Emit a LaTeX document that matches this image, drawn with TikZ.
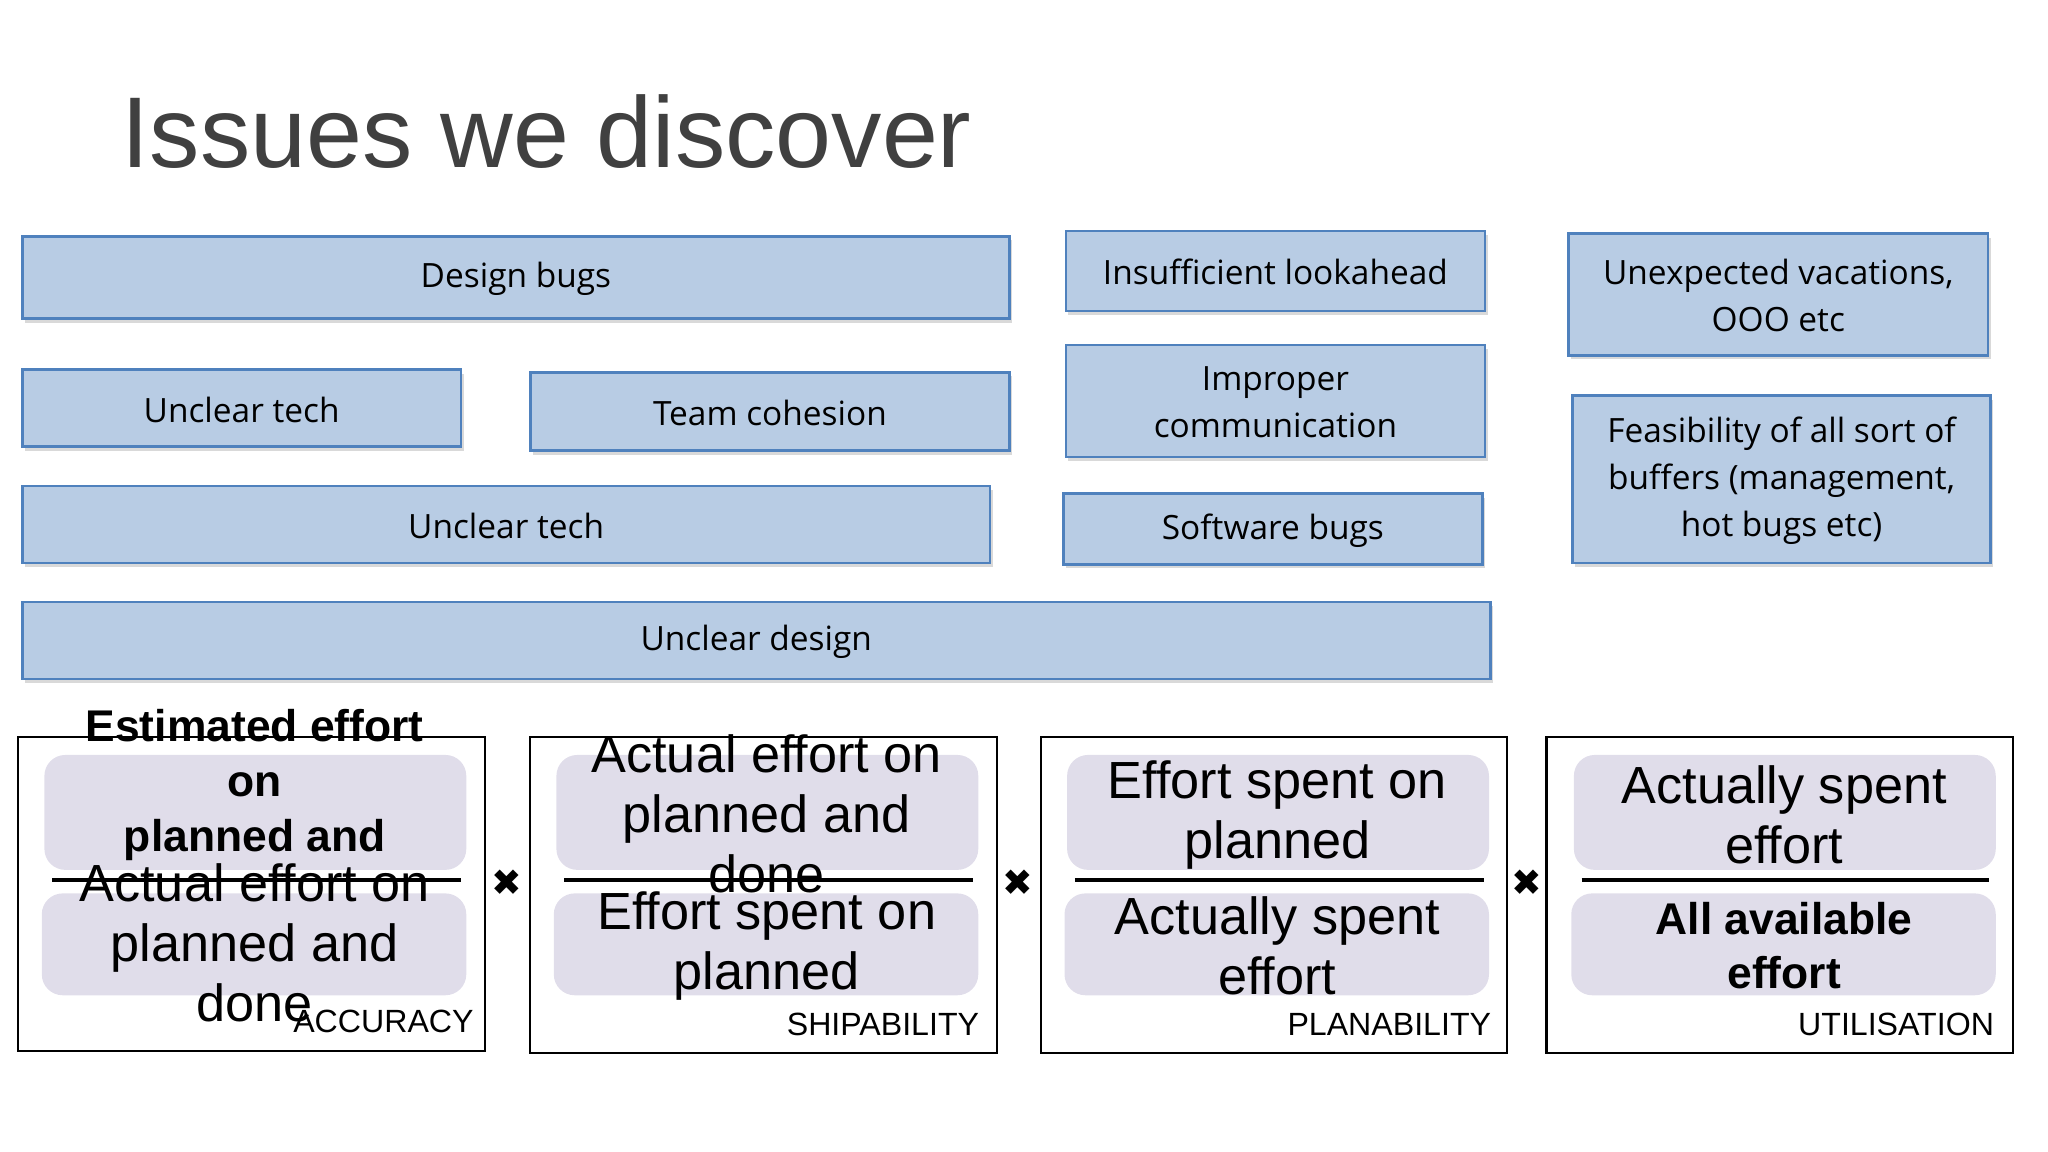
\documentclass[tikz,border=0pt]{standalone}
\usepackage{fontspec}
\setmainfont{Liberation Sans}
\newfontfamily\boxfont{Open Sans}
\newfontfamily\symfont{DejaVu Sans}
\usetikzlibrary{shadows}
\definecolor{bfill}{HTML}{B8CCE4}
\definecolor{bline}{HTML}{4F81BD}
\definecolor{lav}{HTML}{E0DDEA}
\definecolor{ttl}{HTML}{404040}
\begin{document}
\begin{tikzpicture}[x=0.5pt,y=-0.5pt,
 issue/.style={draw=bline,line width=1pt,fill=bfill,drop shadow={shadow xshift=1pt,shadow yshift=-1.5pt,opacity=0.3}},
 itext/.style={font=\boxfont\fontsize{12.8pt}{18pt}\selectfont,align=center,text=black},
 frame/.style={draw=black,line width=0.8pt},
 inner/.style={fill=lav,rounded corners=8pt},
 big/.style={font=\fontsize{20pt}{23pt}\selectfont,align=center,inner sep=0pt},
 bigb/.style={font=\bfseries\fontsize{17pt}{21pt}\selectfont,align=center,inner sep=0pt},
 lbl/.style={font=\fontsize{12.3pt}{14pt}\selectfont,anchor=east,inner sep=0pt},
 bar/.style={line width=1.6pt},
 times/.style={font=\symfont\fontsize{14pt}{14pt}\selectfont,inner sep=0pt}]
\useasboundingbox (0,0) rectangle (1568,882);
\node[font=\fontsize{38.5pt}{46pt}\selectfont,text=ttl,anchor=west,inner sep=0pt] (title) at (93,101) {Issues we discover};
% issue boxes
\foreach \n/\a/\b/\c/\d/\t in {
 db/17/181/773/244/{Design bugs},
 il/816/177/1137/238/{Insufficient lookahead},
 uv/1201/179/1522/272/{Unexpected vacations,\\OOO etc},
 ut/17/283/353/342/{Unclear tech},
 tc/406/285/773/345/{Team cohesion},
 ic/816/264/1137/350/{Improper\\communication},
 ut2/17/372/758/431/{Unclear tech},
 sb/814/378/1135/432/{Software bugs},
 fe/1204/303/1524/431/{Feasibility of all sort of\\buffers (management,\\hot bugs etc)},
 ud/17/461/1141/520/{Unclear design}}{
 \path[issue] (\a,\b) rectangle (\c,\d);
 \node[itext] (\n) at ({(\a+\c)/2},{(\b+\d)/2+1}) {\t};
}
% frames
\draw[frame] (14,564) rectangle (371,805);
\draw[frame] (406,564) rectangle (763,806);
\draw[frame] (797,564) rectangle (1154,806);
\draw[frame] (1184,564) rectangle (1541,806);
\foreach \x in {0,392,783,1171}{
 \fill[inner] ({34+\x},578) rectangle ({357+\x},666);
 \fill[inner] ({32+\x},684) rectangle ({357+\x},762);
}
\draw[bar] (40,674) -- (353,674);
\draw[bar] (432,674) -- (745,674);
\draw[bar] (823,674) -- (1136,674);
\draw[bar] (1211,674) -- (1523,674);
% frame 1
\node[bigb] (e1) at (195,601) {Estimated effort\\on\\planned and};
\node[big] (a1) at (195,722) {Actual effort on\\planned and\\done};
\node[lbl] (l1) at (363,782) {ACCURACY};
% frame 2
\node[big] (a2) at (587,623) {Actual effort on\\planned and\\done};
\node[big] (s2) at (587,724) {Effort spent on\\planned};
\node[lbl] (l2) at (750,784) {SHIPABILITY};
% frame 3
\node[big] (s3) at (978,624) {Effort spent on\\planned};
\node[big] (p3) at (978,724) {Actually spent\\effort};
\node[lbl] (l3) at (1142,784) {PLANABILITY};
% frame 4
\node[big] (p4) at (1366,624) {Actually spent\\effort};
\node[bigb] (v4) at (1366,724) {All available\\effort};
\node[lbl] (l4) at (1527,784) {UTILISATION};
% times
\node[times] (x1) at (388,676) {✖};
\node[times] (x2) at (779,676) {✖};
\node[times] (x3) at (1169,676) {✖};
\end{tikzpicture}
\end{document}
